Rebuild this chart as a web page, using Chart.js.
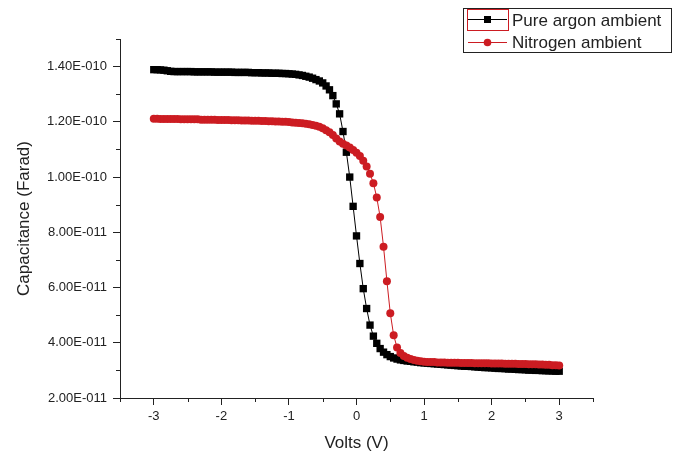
<!DOCTYPE html>
<html>
<head>
<meta charset="utf-8">
<script src="https://cdn.jsdelivr.net/npm/chart.js@4"></script>
<style>
  body { margin: 0; background: #fff; }
  #wrap { width: 685px; height: 457px; }
</style>
</head>
<body>
<div id="wrap"><canvas id="cv" width="685" height="457"></canvas></div>
<script>
// bias voltage (V)
var volts = [
  -3.00, -2.95, -2.90, -2.85, -2.80, -2.75, -2.70, -2.65, -2.60, -2.55,
  -2.50, -2.45, -2.40, -2.35, -2.30, -2.25, -2.20, -2.15, -2.10, -2.05,
  -2.00, -1.95, -1.90, -1.85, -1.80, -1.75, -1.70, -1.65, -1.60, -1.55,
  -1.50, -1.45, -1.40, -1.35, -1.30, -1.25, -1.20, -1.15, -1.10, -1.05,
  -1.00, -0.95, -0.90, -0.85, -0.80, -0.75, -0.70, -0.65, -0.60, -0.55,
  -0.50, -0.45, -0.40, -0.35, -0.30, -0.25, -0.20, -0.15, -0.10, -0.05,
   0.00,  0.05,  0.10,  0.15,  0.20,  0.25,  0.30,  0.35,  0.40,  0.45,
   0.50,  0.55,  0.60,  0.65,  0.70,  0.75,  0.80,  0.85,  0.90,  0.95,
   1.00,  1.05,  1.10,  1.15,  1.20,  1.25,  1.30,  1.35,  1.40,  1.45,
   1.50,  1.55,  1.60,  1.65,  1.70,  1.75,  1.80,  1.85,  1.90,  1.95,
   2.00,  2.05,  2.10,  2.15,  2.20,  2.25,  2.30,  2.35,  2.40,  2.45,
   2.50,  2.55,  2.60,  2.65,  2.70,  2.75,  2.80,  2.85,  2.90,  2.95,
   3.00
];

// capacitance in pF
var argonPF = [
  138.9, 138.9, 138.8, 138.7, 138.5, 138.3, 138.2, 138.2, 138.2, 138.2,
  138.2, 138.2, 138.1, 138.1, 138.1, 138.1, 138.1, 138.1, 138.0, 138.0,
  138.0, 138.0, 138.0, 138.0, 137.9, 137.9, 137.9, 137.9, 137.9, 137.8,
  137.8, 137.8, 137.7, 137.7, 137.7, 137.6, 137.6, 137.6, 137.5, 137.5,
  137.4, 137.3, 137.2, 137.0, 136.8, 136.5, 136.2, 135.8, 135.3, 134.8,
  134.1, 133.0, 131.6, 129.5, 126.5, 122.9, 116.5, 109.0, 100.0, 89.4,
  78.7, 68.7, 59.6, 52.4, 46.4, 42.4, 39.8, 37.9, 36.6, 35.7,
  35.0, 34.5, 34.1, 33.8, 33.6, 33.4, 33.3, 33.1, 33.0, 32.8,
  32.7, 32.6, 32.5, 32.4, 32.3, 32.2, 32.1, 32.0, 31.9, 31.8,
  31.7, 31.6, 31.5, 31.5, 31.4, 31.3, 31.2, 31.1, 31.0, 31.0,
  30.9, 30.8, 30.7, 30.7, 30.6, 30.5, 30.5, 30.4, 30.3, 30.3,
  30.2, 30.1, 30.1, 30.0, 30.0, 29.9, 29.9, 29.8, 29.8, 29.7,
  29.7
];

var nitrogenPF = [
  121.1, 121.1, 121.0, 121.0, 121.0, 121.0, 121.0, 121.0, 120.9, 120.9,
  120.9, 120.9, 120.9, 120.9, 120.8, 120.8, 120.8, 120.8, 120.8, 120.7,
  120.7, 120.7, 120.7, 120.6, 120.6, 120.6, 120.5, 120.5, 120.5, 120.4,
  120.4, 120.4, 120.3, 120.3, 120.2, 120.2, 120.1, 120.1, 120.0, 120.0,
  119.9, 119.8, 119.7, 119.6, 119.5, 119.3, 119.1, 118.9, 118.6, 118.2,
  117.7, 117.0, 116.2, 115.2, 114.0, 112.9, 112.1, 111.4, 110.7, 109.8,
  108.8, 107.6, 105.9, 103.8, 101.2, 97.8, 92.6, 85.5, 74.8, 62.3,
  50.7, 42.7, 38.3, 36.3, 35.2, 34.6, 34.1, 33.8, 33.5, 33.3,
  33.1, 33.0, 33.0, 33.0, 32.9, 32.9, 32.9, 32.8, 32.8, 32.8,
  32.8, 32.7, 32.7, 32.7, 32.7, 32.6, 32.6, 32.6, 32.6, 32.6,
  32.5, 32.5, 32.5, 32.5, 32.4, 32.4, 32.4, 32.4, 32.3, 32.3,
  32.3, 32.2, 32.2, 32.2, 32.1, 32.1, 32.0, 32.0, 31.9, 31.9,
  31.8
];

var seriesNames = ['Pure argon ambient', 'Nitrogen ambient'];

var xTicks = [-3, -2, -1, 0, 1, 2, 3];
var xMinor = [-3.5, -2.5, -1.5, -0.5, 0.5, 1.5, 2.5, 3.5];
var yTicks = [2e-11, 4e-11, 6e-11, 8e-11, 1e-10, 1.2e-10, 1.4e-10];
var yMinor = [3e-11, 5e-11, 7e-11, 9e-11, 1.1e-10, 1.3e-10, 1.5e-10];

var RED = '#cc1c22';
var AXIS = '#222';
var FONT = '"Liberation Sans", Arial, sans-serif';

function toPoints(vals) {
  return volts.map(function (v, i) { return { x: v, y: vals[i] * 1e-12 }; });
}

function sciLabel(v) {
  var parts = v.toExponential(2).split('e');
  var n = parseInt(parts[1], 10);
  return parts[0] + 'E' + (n < 0 ? '-' : '+') + String(Math.abs(n)).padStart(3, '0');
}

// minor ticks + Origin style legend
var extras = {
  id: 'extras',
  afterDraw: function (chart) {
    var ctx = chart.ctx;
    var xs = chart.scales.x, ys = chart.scales.y;
    ctx.save();
    ctx.strokeStyle = AXIS;
    ctx.lineWidth = 1;
    ctx.beginPath();
    xMinor.forEach(function (v) {
      var px = Math.round(xs.getPixelForValue(v)) + 0.5;
      ctx.moveTo(px, xs.top);
      ctx.lineTo(px, xs.top + 4);
    });
    yMinor.forEach(function (v) {
      var py = Math.round(ys.getPixelForValue(v)) + 0.5;
      ctx.moveTo(ys.right, py);
      ctx.lineTo(ys.right - 4, py);
    });
    ctx.stroke();

    // legend box
    ctx.strokeStyle = AXIS;
    ctx.strokeRect(463.5, 8.5, 208, 44);
    ctx.strokeStyle = RED;
    ctx.strokeRect(467.5, 9.5, 41, 21);

    ctx.font = '17px ' + FONT;
    ctx.fillStyle = '#222';
    ctx.textBaseline = 'alphabetic';

    // argon entry
    ctx.strokeStyle = '#000';
    ctx.beginPath();
    ctx.moveTo(468, 19.5);
    ctx.lineTo(507, 19.5);
    ctx.stroke();
    ctx.fillStyle = '#000';
    ctx.fillRect(484, 16, 7, 7);
    ctx.fillStyle = '#222';
    ctx.fillText(seriesNames[0], 512, 26);

    // nitrogen entry
    ctx.strokeStyle = RED;
    ctx.beginPath();
    ctx.moveTo(468, 42.5);
    ctx.lineTo(507, 42.5);
    ctx.stroke();
    ctx.fillStyle = RED;
    ctx.beginPath();
    ctx.arc(487.5, 42.5, 3.8, 0, Math.PI * 2);
    ctx.fill();
    ctx.fillStyle = '#222';
    ctx.fillText(seriesNames[1], 512, 47.5);
    ctx.restore();
  }
};

new Chart(document.getElementById('cv'), {
  type: 'line',
  data: {
    datasets: [{
      label: seriesNames[0],
      data: toPoints(argonPF),
      borderColor: '#000',
      backgroundColor: '#000',
      borderWidth: 1,
      pointStyle: 'rect',
      pointRadius: 5.2,
      pointBorderWidth: 0,
      order: 2
    }, {
      label: seriesNames[1],
      data: toPoints(nitrogenPF),
      borderColor: RED,
      backgroundColor: RED,
      borderWidth: 1,
      pointStyle: 'circle',
      pointRadius: 4,
      pointBorderWidth: 0,
      order: 1
    }]
  },
  options: {
    responsive: false,
    animation: false,
    layout: { padding: { top: 39, right: 92, left: 0, bottom: 0 } },
    plugins: { legend: { display: false }, tooltip: { enabled: false } },
    scales: {
      x: {
        type: 'linear',
        min: -3.5,
        max: 3.5,
        afterBuildTicks: function (s) { s.ticks = xTicks.map(function (v) { return { value: v }; }); },
        afterFit: function (s) { s.height = 59; },
        grid: { drawOnChartArea: false, tickLength: 7, color: AXIS },
        border: { color: AXIS, width: 1 },
        ticks: { color: '#222', font: { family: FONT, size: 13 }, padding: 4, maxRotation: 0 },
        title: { display: true, text: 'Volts (V)', color: '#222', font: { family: FONT, size: 17 }, padding: { top: 0, bottom: 3 } }
      },
      y: {
        min: 2e-11,
        max: 1.5e-10,
        afterBuildTicks: function (s) { s.ticks = yTicks.map(function (v) { return { value: v }; }); },
        afterFit: function (s) { s.width = 120; },
        grid: { drawOnChartArea: false, tickLength: 7, color: AXIS },
        border: { color: AXIS, width: 1 },
        ticks: { color: '#222', font: { family: FONT, size: 13 }, padding: 6, callback: function (v) { return sciLabel(v); } },
        title: { display: true, text: 'Capacitance (Farad)', color: '#222', font: { family: FONT, size: 17 }, padding: { top: 14, bottom: 0 } }
      }
    }
  },
  plugins: [extras]
});
</script>
</body>
</html>
